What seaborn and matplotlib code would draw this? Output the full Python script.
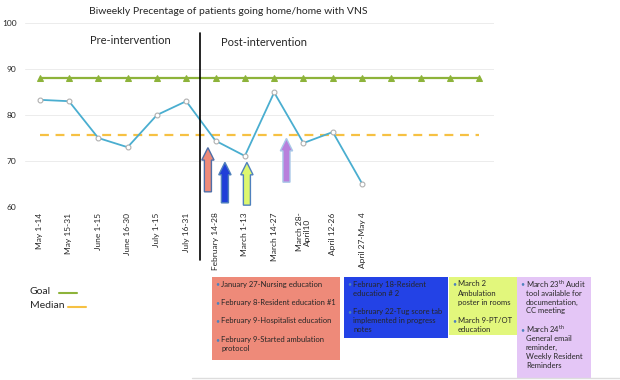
"""Biweekly percentage of patients going home / home with VNS (run chart)."""

import matplotlib.pyplot as plt
import matplotlib.transforms as mtransforms
from matplotlib.patches import FancyArrow, Rectangle
import numpy as np
import pandas as pd
import seaborn as sns

periods = [
    "May 1-14", "May 15-31", "June 1-15", "June 16-30", "July 1-15",
    "July 16-31", "February 14-28", "March 1-13", "March 14-27",
    "March 28-\nApril10", "April 12-26", "April 27-May 4",
]
pct_home = [83.3, 83.0, 75.0, 73.0, 80.0, 83.0, 74.4, 71.1, 84.9, 73.9, 76.3, 65.1]
n_slots = 16
goal = 88.0
median = 75.7

# intervention arrows: (x position in slots, bottom, tip, face, edge)
arrows = [
    (5.74, 63.3, 72.9, "#ee8a79", "#4f6fa8"),
    (6.32, 60.9, 69.7, "#1f3fd8", "#4f81bd"),
    (7.07, 60.4, 69.7, "#ddf76e", "#4f81bd"),
    (8.42, 65.4, 74.9, "#b87fdc", "#a9c8e8"),
]

boxes = [
    ("#ee8a79", [["January 27-Nursing education"],
                 ["February 8-Resident education #1"],
                 ["February 9-Hospitalist education"],
                 ["February 9-Started ambulation", "protocol"]]),
    ("#2342e6", [["February 18-Resident", "education # 2"],
                 ["February 22-Tug score tab", "implemented in progress", "notes"]]),
    ("#e2f77c", [["March 2", "Ambulation", "poster in rooms"],
                 ["March 9-PT/OT", "education"]]),
    ("#e4c6f6", [[r"March 23$^{\rm th}$ Audit", "tool available for",
                  "documentation,", "CC meeting"],
                 [r"March 24$^{\rm th}$", "General email", "reminder,",
                  "Weekly Resident", "Reminders"]]),
]
# box geometry in pixels: left, top, right, bottom
box_px = [(212, 277, 340, 360), (344, 277, 448, 338),
          (449, 277, 517, 335), (517, 277, 591, 378)]

W, H = 620, 380
sns.set_theme(style="white")
plt.rcParams["font.family"] = ["Lato", "DejaVu Sans"]
plt.rcParams["mathtext.fontset"] = "custom"
plt.rcParams["mathtext.rm"] = "Lato"

fig = plt.figure(figsize=(W / 100, H / 100), dpi=100)
ax = fig.add_axes([25 / W, 1 - 207 / H, 469 / W, 184 / H])

df = pd.DataFrame({"slot": np.arange(len(pct_home)), "pct": pct_home})
goal_df = pd.DataFrame({"slot": np.arange(n_slots), "pct": [goal] * n_slots})

sns.lineplot(data=goal_df, x="slot", y="pct", ax=ax, color="#8db33a", lw=1.6,
             marker="^", markersize=5, markeredgecolor="#8db33a", zorder=3)
ax.axhline(median, xmin=0.5 / n_slots, xmax=(n_slots - 0.5) / n_slots,
           color="#f6c143", lw=1.6, ls=(0, (4, 3)), zorder=2)
sns.lineplot(data=df, x="slot", y="pct", ax=ax, color="#4aaed0", lw=1.3,
             marker="o", markersize=3.5, markerfacecolor="white",
             markeredgecolor="#b0b0b0", markeredgewidth=0.8, zorder=4)

for x, y0, y1, face, edge in arrows:
    ax.add_patch(FancyArrow(x, y0, 0, y1 - y0, width=0.24, head_width=0.42,
                            head_length=2.7, length_includes_head=True,
                            facecolor=face, edgecolor=edge, lw=1.0, zorder=5))

ax.set_xlim(-0.5, n_slots - 0.5)
ax.set_ylim(60, 100)
ax.set_yticks([60, 70, 80, 90, 100])
ax.set_xticks(range(n_slots))
ax.set_xticklabels(periods + [""] * (n_slots - len(periods)), rotation=90,
                   fontsize=6, linespacing=1.05)
ax.tick_params(axis="y", labelsize=6, length=0, pad=6)
ax.tick_params(axis="x", length=0, pad=4)
ax.grid(axis="y", color="#ececec", lw=0.7)
sns.despine(ax=ax, left=True, bottom=True)
ax.set_xlabel("")
ax.set_ylabel("")

# phase divider
trans = mtransforms.blended_transform_factory(ax.transData, ax.transAxes)
ax.plot([5.47, 5.47], [0.946, -0.29], transform=trans, color="black",
        lw=1.2, clip_on=False, zorder=6)

fig.text(228 / W, 1 - 11 / H, "Biweekly Precentage of patients going home/home with VNS",
         ha="center", va="center", fontsize=7.5)
fig.text(130 / W, 1 - 41 / H, "Pre-intervention", ha="center", va="center", fontsize=8.0)
fig.text(264 / W, 1 - 42 / H, "Post-intervention", ha="center", va="center", fontsize=8.0)

# legend
fig.text(30 / W, 1 - 292 / H, "Goal", va="center", fontsize=7.5)
fig.text(30 / W, 1 - 306 / H, "Median", va="center", fontsize=7.5)
fig.add_artist(plt.Line2D([59 / W, 77 / W], [1 - 293 / H] * 2, color="#8db33a", lw=1.5))
fig.add_artist(plt.Line2D([68 / W, 86 / W], [1 - 307 / H] * 2, color="#f6c143", lw=1.5))

# intervention boxes
for (color, paras), (l, t, r, b) in zip(boxes, box_px):
    fig.add_artist(Rectangle((l / W, 1 - b / H), (r - l) / W, (b - t) / H,
                             transform=fig.transFigure, facecolor=color,
                             edgecolor="none"))
    y = t + 7
    for lines in paras:
        fig.text((l + 5) / W, 1 - y / H, "•", color="#4f81bd", va="center",
                 ha="center", fontsize=5)
        for line in lines:
            fig.text((l + 9) / W, 1 - y / H, line, va="center", fontsize=5.5)
            y += 9.0
        y += 9.5

fig.add_artist(plt.Line2D([192 / W, 1], [1 - 378 / H] * 2, color="#dddddd", lw=1))

fig.savefig("out.png", dpi=100)
